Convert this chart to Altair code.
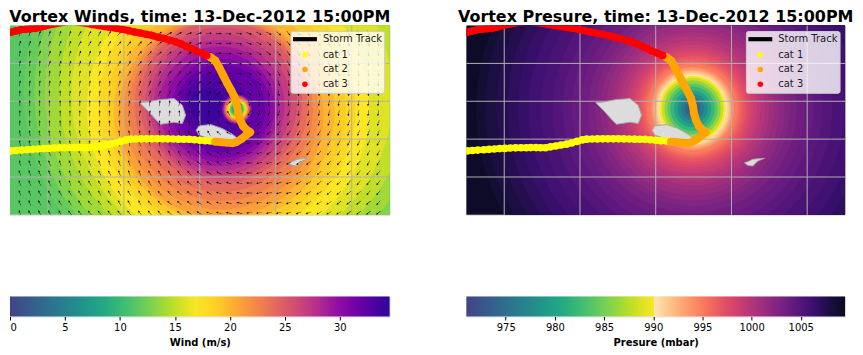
import altair as alt
import pandas as pd

FONT = "DejaVu Sans"
TITLE_W = "Vortex Winds, time: 13-Dec-2012 15:00PM"
TITLE_P = "Vortex Presure, time: 13-Dec-2012 15:00PM"

# colour stops
WIND_STOPS = [0, 2.125, 4.25, 6.375, 8.5, 10.625, 12.75, 14.875, 17, 17.01, 18.9, 20.7, 22.6, 24.4, 26.3, 28.1, 29.9, 31.8, 33.6, 34.5]
WIND_COLORS = ["#414487", "#355f8d", "#2a788e", "#21918c", "#22a884", "#44bf70", "#7ad151", "#bddf26", "#fde725", "#f8e425",
               "#fcce25", "#fca636", "#f2844b", "#e16462", "#cc4778", "#b12a90", "#8f0da4", "#6a00a8", "#41049d", "#35039a"]
PRES_STOPS = [971.0, 973.55, 975.9, 978.25, 980.6, 982.95, 985.3, 987.65, 990.1, 990.11, 991.2, 993.35, 995.5, 997.65, 999.8, 1001.95, 1004.1, 1006.25, 1008.4, 1009.5]
PRES_COLORS = ["#414487", "#355f8d", "#2a788e", "#21918c", "#22a884", "#44bf70", "#7ad151", "#bddf26", "#fde725", "#fee5b5",
               "#fecf92", "#fe9f6d", "#f7705c", "#de4968", "#b73779", "#8c2981", "#641a80", "#3b0f70", "#140e36", "#0c0a24"]

# wind isotachs: value, centre, radius (degrees)
WIND_V = [11.5, 12, 13, 14, 15, 16, 17, 18, 19, 20, 21, 22, 23, 24, 25, 26, 27, 28, 29, 30, 31, 32, 33, 34,
          33, 30, 27, 24, 21, 18, 16, 13, 11, 9, 8, 7]
WIND_LON = [-171.6, -171.549, -171.549, -171.549, -171.549, -171.575, -171.628, -171.641, -171.654, -171.68, -171.72, -171.72, -171.72, -171.72, -171.72, -171.72, -171.733, -171.746, -171.746, -171.733, -171.72, -171.72, -171.8, -171.903,
            -171.51, -171.51, -171.51, -171.51, -171.51, -171.51, -171.51, -171.51, -171.51, -171.51, -171.51, -171.51]
WIND_LAT = [-13.6, -13.382, -13.382, -13.382, -13.382, -13.421, -13.592, -13.566, -13.618, -13.645, -13.684, -13.645, -13.605, -13.553, -13.513, -13.526, -13.539, -13.553, -13.566, -13.579, -13.592, -13.592, -13.566, -13.553,
            -13.605, -13.605, -13.605, -13.605, -13.605, -13.605, -13.605, -13.605, -13.605, -13.605, -13.605, -13.605]
WIND_R = [7.0, 3.121, 2.964, 2.807, 2.597, 2.387, 2.098, 1.915, 1.77, 1.639, 1.521, 1.443, 1.364, 1.285, 1.207, 1.128, 1.049, 0.97, 0.892, 0.813, 0.734, 0.656, 0.472, 0.262,
          0.249, 0.223, 0.203, 0.184, 0.164, 0.144, 0.131, 0.111, 0.098, 0.079, 0.059, 0.033]

# pressure isobars around the centre
PRES_CENTRE = (-171.514, -13.599)
PRES_V = [1009.3, 1008.5, 1008, 1007.5, 1007, 1006.5, 1006, 1005.5, 1005, 1004.5, 1004, 1003.5, 1003, 1002.5, 1002, 1001.5, 1001, 1000.5, 1000, 999.5, 999, 998.5, 998, 997.5, 997, 996.5, 996, 995.5, 995, 994, 993, 992, 991, 990.2,
          990, 988, 986, 984, 982, 980, 978, 976, 974, 972]
PRES_R = [7.0, 3.22, 3.09, 2.92, 2.76, 2.6, 2.44, 2.26, 2.08, 1.93, 1.8, 1.67, 1.55, 1.45, 1.37, 1.29, 1.21, 1.14, 1.08, 1.01, 0.96, 0.91, 0.87, 0.83, 0.79, 0.75, 0.72, 0.695, 0.67, 0.62, 0.59, 0.565, 0.54, 0.512,
          0.493, 0.46, 0.42, 0.375, 0.33, 0.276, 0.223, 0.17, 0.118, 0.066]

# islands: lon, top lat, bottom lat
SAVAII_LON = [-172.792, -172.691, -172.572, -172.516, -172.34, -172.231, -172.187]
SAVAII_TOP = [-13.517, -13.509, -13.487, -13.478, -13.465, -13.553, -13.684]
SAVAII_BOT = [-13.517, -13.618, -13.75, -13.803, -13.776, -13.794, -13.684]
UPOLU_LON = [-172.047, -172.011, -171.859, -171.705, -171.574, -171.486]
UPOLU_TOP = [-13.882, -13.825, -13.807, -13.86, -13.934, -14.004]
UPOLU_BOT = [-13.882, -13.947, -13.996, -14.013, -14.013, -14.004]
TUTUILA_LON = [-170.829, -170.785, -170.719, -170.654, -170.566]
TUTUILA_TOP = [-14.312, -14.298, -14.267, -14.259, -14.254]
TUTUILA_BOT = [-14.312, -14.346, -14.355, -14.289, -14.254]

# storm track
YEL_LON = [-174.49, -174.42, -174.35, -174.27, -174.2, -174.13, -174.06, -173.99, -173.92, -173.85, -173.78, -173.71, -173.65, -173.58, -173.52, -173.457, -173.39, -173.32, -173.25, -173.177, -173.11, -173.04, -172.97, -172.91, -172.84, -172.77, -172.7, -172.63, -172.56, -172.49, -172.42, -172.35, -172.28, -172.21, -172.14, -172.07, -172.0, -171.93, -171.86, -171.8]
YEL_LAT = [-14.155, -14.15, -14.145, -14.14, -14.135, -14.13, -14.125, -14.122, -14.118, -14.115, -14.114, -14.113, -14.112, -14.112, -14.113, -14.113, -14.102, -14.09, -14.078, -14.066, -14.05, -14.03, -14.01, -14.0, -13.998, -13.997, -13.996, -13.996, -13.996, -13.996, -13.997, -13.998, -14.0, -14.001, -14.003, -14.008, -14.015, -14.02, -14.024, -14.026]
ORA_LON = [-171.797, -171.731, -171.652, -171.574, -171.521, -171.455, -171.39, -171.337, -171.376, -171.429, -171.468, -171.495, -171.508, -171.534, -171.587, -171.639, -171.692, -171.744, -171.797, -171.863]
ORA_LAT = [-14.033, -14.039, -14.046, -14.053, -14.039, -14.0, -13.947, -13.908, -13.882, -13.829, -13.75, -13.658, -13.566, -13.461, -13.355, -13.263, -13.158, -13.053, -12.961, -12.917]
RED_LON = [-171.909, -171.981, -172.047, -172.112, -172.178, -172.244, -172.309, -172.388, -172.467, -172.546, -172.625, -172.704, -172.783, -172.861, -172.94, -173.019, -173.098, -173.177, -173.256, -173.334, -173.413, -173.7, -174.031, -174.097, -174.162, -174.228, -174.294, -174.359, -174.425, -174.487]
RED_LAT = [-12.895, -12.862, -12.836, -12.803, -12.776, -12.743, -12.717, -12.697, -12.671, -12.655, -12.632, -12.616, -12.599, -12.586, -12.566, -12.55, -12.537, -12.526, -12.513, -12.5, -12.487, -12.44, -12.504, -12.522, -12.537, -12.543, -12.55, -12.557, -12.572, -12.588]

GRID_LON = [-174, -173, -172, -171, -170]
GRID_LAT = [-13, -13.5, -14, -14.5]

# quiver: arrow positions and headings (tens of degrees clockwise from north)
Q_LON = [-174.37, -174.24, -174.11, -173.98, -173.84, -173.71, -173.58, -173.45, -173.32, -173.19, -173.06, -172.93, -172.79, -172.66, -172.53, -172.4, -172.27, -172.14, -172.01, -171.88, -171.75, -171.62, -171.48, -171.35, -171.22, -171.09, -170.96, -170.83, -170.7, -170.57, -170.43, -170.3, -170.17, -170.04, -169.91, -169.78, -169.65]
Q_LAT = [-12.605, -12.737, -12.868, -13.0, -13.132, -13.263, -13.395, -13.526, -13.658, -13.789, -13.921, -14.053, -14.184, -14.316, -14.447, -14.579, -14.711, -14.842, -14.974]
Q_ROWS = [
"2 2 2 2 2 2 3 3 3 3 4 5 5 5 5 6 6 7 7 8 9 10 10 11 12 12 13 14 14 14 15 15 15 16 16 16 16",
"2 2 2 2 2 2 3 3 3 3 4 4 4 5 5 5 6 6 7 8 9 9 10 11 12 13 13 14 14 15 15 16 16 16 16 16 17",
"1 1 2 2 2 2 2 2 2 2 3 4 4 4 5 5 5 6 7 7 8 9 10 11 12 13 14 14 15 15 16 16 16 16 17 17 17",
"1 1 1 2 2 2 2 2 2 2 3 3 4 4 4 4 5 5 6 7 8 9 10 12 13 14 14 15 15 16 16 16 17 17 17 17 17",
"1 1 1 1 1 1 1 1 2 2 2 3 3 3 3 4 4 5 5 6 7 9 10 12 13 14 15 16 16 16 17 17 17 17 17 17 17",
"1 1 1 1 1 1 1 1 1 1 2 2 2 2 3 3 3 4 4 5 7 8 11 13 14 15 16 17 17 17 17 18 18 18 18 18 18",
"0 0 0 0 0 1 1 1 1 1 1 1 2 2 2 2 3 3 3 4 5 8 11 14 16 17 17 17 18 18 18 18 18 18 18 18 18",
"0 0 0 0 0 0 0 0 0 0 1 1 1 1 1 1 1 1 2 2 3 5 13 17 18 18 18 18 19 19 19 19 19 19 19 19 19",
"0 0 0 0 0 0 0 0 0 0 1 1 1 1 1 1 0 0 0 0 35 33 25 21 20 20 20 20 19 19 19 19 19 19 19 19 19",
"36 36 36 36 36 36 36 36 36 36 0 0 0 0 36 36 36 35 35 34 33 30 27 24 22 21 21 21 20 20 20 20 20 20 20 20 20",
"35 35 35 35 35 35 35 35 35 35 35 35 35 35 35 35 35 34 34 33 31 30 27 25 24 23 22 22 21 21 21 21 21 20 20 20 20",
"35 35 35 35 35 35 35 35 35 34 35 35 35 35 35 34 34 33 33 32 31 29 27 26 25 24 23 22 22 22 21 21 21 21 21 21 21",
"35 35 35 34 34 34 34 34 34 34 34 34 34 34 34 34 33 33 32 31 30 29 28 26 25 24 24 23 23 22 22 22 21 21 21 21 21",
"35 34 34 34 34 34 34 34 34 34 34 34 34 34 33 33 33 32 31 31 30 29 28 27 26 25 24 24 23 23 22 22 22 22 22 21 21",
"34 34 34 34 34 34 34 33 33 33 34 34 34 33 33 33 32 32 31 30 30 29 28 27 26 25 25 24 24 23 23 23 22 22 22 22 22",
"34 34 34 34 34 34 33 33 33 33 33 33 33 33 33 32 32 31 31 30 29 29 28 27 26 26 25 25 24 24 23 23 23 22 22 22 22",
"34 34 33 33 33 33 33 33 33 33 33 33 33 33 32 32 31 31 30 30 29 28 28 27 26 26 25 25 24 24 24 23 23 23 23 22 22",
"34 34 33 33 33 33 33 32 32 32 33 33 33 32 32 31 31 31 30 30 29 28 28 27 27 26 26 25 25 24 24 24 23 23 23 23 22",
"34 33 33 33 33 32 32 32 32 32 32 32 32 32 32 31 31 30 30 29 29 28 28 27 27 26 26 25 25 25 24 24 24 23 23 23 23",
]

LEGEND_LABELS = ["Storm Track", "cat 1", "cat 2", "cat 3"]
CAT_COLORS = ["yellow", "orange", "red"]

WIND_TICKS = [0, 5, 10, 15, 20, 25, 30]
PRES_TICKS = [975, 980, 985, 990, 995, 1000, 1005]

ARROW = "M-0.07,1L0.07,1L0.07,-0.3L0.34,-0.3L0,-1L-0.34,-0.3L-0.07,-0.3Z"
ONE = pd.DataFrame({"k": [0]})

xs = alt.Scale(domain=[-174.5, -169.5], nice=False, zero=False)
ys = alt.Scale(domain=[-15, -12.5], nice=False, zero=False)
X = lambda f: alt.X(f, type="quantitative", scale=xs, axis=None)
Y = lambda f: alt.Y(f, type="quantitative", scale=ys, axis=None)


def field(df, stops, colors, px):
    return (alt.Chart(df).transform_calculate(area=f"PI*pow(datum.r*{px},2)")
            .mark_point(filled=True, opacity=1, clip=True, shape="circle", strokeWidth=0)
            .encode(x=X("lon"), y=Y("lat"),
                    color=alt.Color("v:Q", legend=None,
                                    scale=alt.Scale(domain=stops, range=colors, interpolate="rgb")),
                    size=alt.Size("area:Q", scale=None)))


def grid():
    a = alt.Chart(pd.DataFrame({"lon": GRID_LON})).mark_rule(color="#b0b0b0", strokeWidth=1).encode(x=X("lon"))
    b = alt.Chart(pd.DataFrame({"lat": GRID_LAT})).mark_rule(color="#b0b0b0", strokeWidth=1).encode(y=Y("lat"))
    return [a, b]


def islands():
    out = []
    for lon, top, bot in [(SAVAII_LON, SAVAII_TOP, SAVAII_BOT), (UPOLU_LON, UPOLU_TOP, UPOLU_BOT),
                          (TUTUILA_LON, TUTUILA_TOP, TUTUILA_BOT)]:
        d = pd.DataFrame({"lon": lon, "top": top, "bot": bot})
        out.append(alt.Chart(d).mark_area(color="#dcdcdc", stroke="#a8a8a8", strokeWidth=1, opacity=1, clip=True)
                   .encode(x=X("lon"), y=Y("top"), y2="bot"))
    return out


def track():
    out = []
    sets = [(YEL_LON, YEL_LAT, CAT_COLORS[0], 6), (ORA_LON, ORA_LAT, CAT_COLORS[1], 8), (RED_LON, RED_LAT, CAT_COLORS[2], 7)]
    for lon, lat, c, w in sets:
        d = pd.DataFrame({"lon": lon, "lat": lat, "i": range(len(lon))})
        out.append(alt.Chart(d).mark_line(color=c, strokeWidth=w, clip=True, strokeCap="round", strokeJoin="round")
                   .encode(x=X("lon"), y=Y("lat"), order="i:Q"))
        out.append(alt.Chart(d).mark_circle(color=c, size=58, opacity=1, clip=True).encode(x=X("lon"), y=Y("lat")))
    return out


def legend(x0):
    ys_px = [13.7, 29.3, 44, 59]
    out = [alt.Chart(ONE).mark_rect(fill="white", fillOpacity=0.8, stroke="#cccccc", strokeWidth=1, cornerRadius=2)
           .encode(x=alt.value(x0), x2=alt.value(x0 + 94), y=alt.value(6), y2=alt.value(68))]
    out.append(alt.Chart(ONE).mark_rule(color="black", strokeWidth=4.2)
               .encode(x=alt.value(x0 + 2), x2=alt.value(x0 + 26), y=alt.value(ys_px[0])))
    for c, y in zip(CAT_COLORS, ys_px[1:]):
        out.append(alt.Chart(ONE).mark_circle(color=c, size=30, opacity=1)
                   .encode(x=alt.value(x0 + 14), y=alt.value(y)))
    for t, y in zip(LEGEND_LABELS, ys_px):
        out.append(alt.Chart(ONE).mark_text(text=t, align="left", baseline="middle", font=FONT, fontSize=10, color="#1a1a1a")
                   .encode(x=alt.value(x0 + 32), y=alt.value(y)))
    return out


def quiver():
    rows = []
    for la, row in zip(Q_LAT, Q_ROWS):
        for lo, a in zip(Q_LON, row.split()):
            rows.append({"lon": lo, "lat": la, "a": int(a) * 10})
    return (alt.Chart(pd.DataFrame(rows))
            .mark_point(shape=ARROW, filled=True, color="black", opacity=1, size=36, strokeWidth=0, clip=True)
            .encode(x=X("lon"), y=Y("lat"), angle=alt.Angle("a:Q", scale=None)))


def title(t):
    return alt.Title(t, font=FONT, fontSize=16, fontWeight="bold", anchor="middle", offset=0, color="black")


def cbar(lo, hi, stops, colors, ticks, name, w):
    span = hi - lo
    gs = [alt.GradientStop(offset=(s - lo) / span, color=c) for s, c in zip(stops, colors)]
    d = pd.DataFrame({"a": [lo], "b": [hi]})
    return (alt.Chart(d)
            .mark_rect(color=alt.LinearGradient(gradient="linear", stops=gs, x1=0, x2=1, y1=0, y2=0))
            .encode(x=alt.X("a:Q", scale=alt.Scale(domain=[lo, hi], nice=False, zero=False),
                            axis=alt.Axis(values=ticks, format="d", title=name, labelFont=FONT, labelFontSize=10,
                                          labelColor="black", titleFont=FONT, titleFontSize=10, titleFontWeight="bold",
                                          titleColor="black", titlePadding=5, tickSize=3.5, tickColor="black",
                                          domain=False, grid=False, labelPadding=3, labelOverlap=False)),
                    x2="b:Q", y=alt.value(0), y2=alt.value(20))
            .properties(width=w, height=20))


wind_df = pd.DataFrame({"v": WIND_V, "lon": WIND_LON, "lat": WIND_LAT, "r": WIND_R})
pres_df = pd.DataFrame({"v": PRES_V, "r": PRES_R})
pres_df["lon"] = PRES_CENTRE[0]
pres_df["lat"] = PRES_CENTRE[1]

map1 = alt.layer(field(wind_df, WIND_STOPS, WIND_COLORS, 76.25), *grid(), *islands(), quiver(), *track(), *legend(282)
                 ).properties(width=381, height=190, title=title(TITLE_W))
map2 = alt.layer(field(pres_df, PRES_STOPS, PRES_COLORS, 76.1), *grid(), *islands(), *track(), *legend(281)
                 ).properties(width=380, height=190, title=title(TITLE_P))

chart = (alt.concat(map1, map2,
                    cbar(0, 34.53, WIND_STOPS, WIND_COLORS, WIND_TICKS, "Wind (m/s)", 381),
                    cbar(971.0, 1009.5, PRES_STOPS, PRES_COLORS, PRES_TICKS, "Presure (mbar)", 380),
                    columns=2, spacing={"column": 77, "row": 82},
                    bounds="flush", background="white",
                    padding={"left": 0, "top": 0, "right": 0, "bottom": 0})
         .resolve_scale(color="independent")
         .configure_view(stroke="#222222", strokeWidth=1)
         .configure(font=FONT))
chart.save("out.html", embed_options={"renderer": "svg", "actions": False})
